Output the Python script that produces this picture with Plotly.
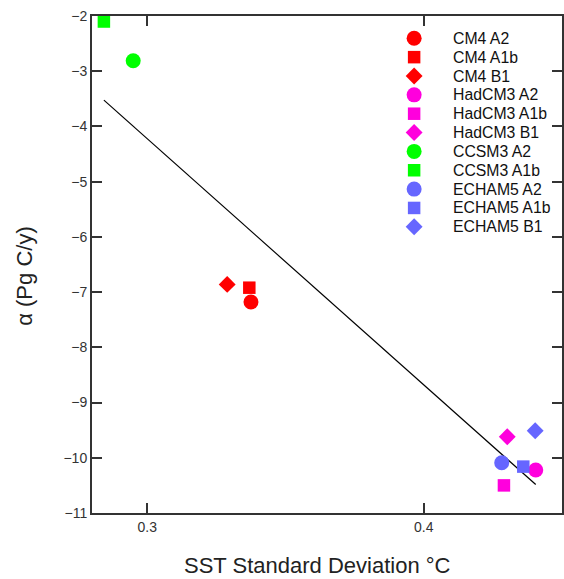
import numpy as np
import plotly.graph_objects as go

# Model / scenario results: SST standard deviation (°C) vs alpha (Pg C/y)
names = ["CM4 A2", "CM4 A1b", "CM4 B1",
         "HadCM3 A2", "HadCM3 A1b", "HadCM3 B1",
         "CCSM3 A2", "CCSM3 A1b",
         "ECHAM5 A2", "ECHAM5 A1b", "ECHAM5 B1"]
sst_sd = [0.3375, 0.3369, 0.3289,
          0.4405, 0.4290, 0.4302,
          0.2949, 0.2843,
          0.4282, 0.4360, 0.4403]
alpha = [-7.18, -6.92, -6.86,
         -10.22, -10.50, -9.62,
         -2.81, -2.10,
         -10.09, -10.16, -9.51]

colors = ["#ff0000", "#ff0000", "#ff0000",
          "#ff00dd", "#ff00dd", "#ff00dd",
          "#00ff00", "#00ff00",
          "#6666ff", "#6666ff", "#6666ff"]
symbols = ["circle", "square", "diamond",
           "circle", "square", "diamond",
           "circle", "square",
           "circle", "square", "diamond"]
sizes = {"circle": 15, "square": 12.5, "diamond": 13}

x_ticks = [0.3, 0.4]
x_tick_text = ["0.3", "0.4"]
y_ticks = list(range(-11, -1))

FONT = "Liberation Sans, Arial, Helvetica, sans-serif"
AXIS = "#333333"

# Figure geometry (pixels)
W, H = 564, 579
L, R, T, B = 92, 0, 16, 66
pw, ph = W - L - R, H - T - B

fig = go.Figure()

# Least-squares fit across the full set of points
coef = np.polyfit(sst_sd, alpha, 1)
fx = np.array([min(sst_sd), max(sst_sd)])
fig.add_trace(go.Scatter(x=fx, y=np.polyval(coef, fx), mode="lines",
                         line=dict(color="black", width=1.2),
                         showlegend=False, hoverinfo="skip"))

for n, xv, yv, c, s in zip(names, sst_sd, alpha, colors, symbols):
    fig.add_trace(go.Scatter(x=[xv], y=[yv], mode="markers", name=n,
                             showlegend=False,
                             marker=dict(color=c, symbol=s, size=sizes[s],
                                         opacity=1, line=dict(width=0))))

# Key: drawn on a hidden pixel-unit overlay so the row pitch can be set freely
key_x, key_text_x, key_y0, key_dy = 415.5, 453, 38.3, 18.85
key_y = [key_y0 + i * key_dy for i in range(len(names))]
fig.add_trace(go.Scatter(
    x=[key_x] * len(names), y=key_y, mode="markers",
    marker=dict(color=colors, symbol=symbols, opacity=1,
                size=[sizes[s] for s in symbols], line=dict(width=0)),
    xaxis="x2", yaxis="y2", showlegend=False, hoverinfo="skip"))
for n, yk in zip(names, key_y):
    fig.add_annotation(x=key_text_x, y=yk, xref="x2", yref="y2", text=n,
                       showarrow=False, xanchor="left", yanchor="middle",
                       font=dict(family=FONT, size=15.8, color="#111111"))

axis_common = dict(showgrid=False, zeroline=False, showline=True,
                   linecolor=AXIS, linewidth=2, mirror="ticks",
                   ticks="inside", ticklen=10, tickwidth=2, tickcolor=AXIS,
                   tickfont=dict(family=FONT, size=14, color="#333333"))

fig.update_xaxes(range=[0.28, 0.45], tickvals=x_ticks, ticktext=x_tick_text,
                 **axis_common)
fig.update_yaxes(range=[-11, -2], tickvals=y_ticks, **axis_common)

fig.update_layout(
    xaxis2=dict(overlaying="x", range=[L, W - R], visible=False),
    yaxis2=dict(overlaying="y", range=[H - B, T], visible=False),
)

# Axis titles, placed in pixel terms relative to the plotting area
fig.add_annotation(x=(318 - L) / pw, y=-(B - 0.5) / ph, xref="paper", yref="paper",
                   text="SST Standard Deviation °C", showarrow=False,
                   xanchor="center", yanchor="bottom", borderpad=0,
                   font=dict(family=FONT, size=22, color="#222222"))
fig.add_annotation(x=(24 - L) / pw, y=(H - B - 275.5) / ph,
                   xref="paper", yref="paper",
                   text="α (Pg C/y)", showarrow=False, textangle=-90,
                   xanchor="center", yanchor="middle",
                   font=dict(family=FONT, size=22, color="#222222"))

fig.update_layout(
    width=W, height=H,
    margin=dict(l=L, r=R, t=T, b=B),
    plot_bgcolor="white", paper_bgcolor="white",
    font=dict(family=FONT),
    showlegend=False,
)

fig.write_html("out.html")
